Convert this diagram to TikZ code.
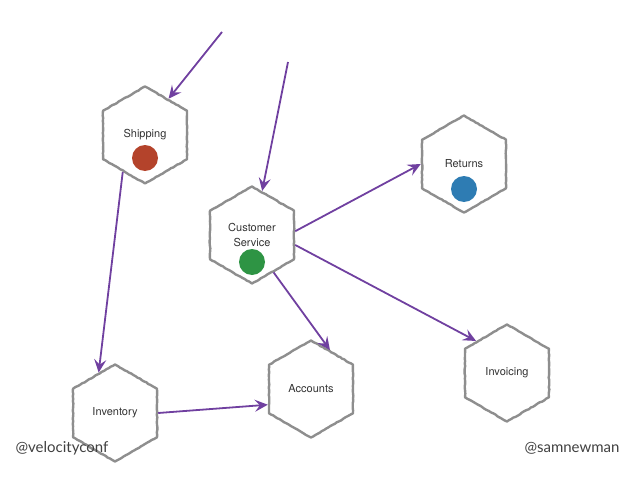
\documentclass[tikz,border=0pt]{standalone}
\usepackage{fontspec}
\setmainfont{TeX Gyre Heros}
\newfontfamily\handlefont{Lato}
\usetikzlibrary{shapes.geometric,arrows.meta,decorations.pathmorphing}
\definecolor{hexgray}{HTML}{8E8E8E}
\definecolor{flowpurple}{HTML}{7040A0}
\definecolor{shipred}{HTML}{B4432B}
\definecolor{csgreen}{HTML}{2E9444}
\definecolor{retblue}{HTML}{2E7CB3}
\tikzset{
    hexnode/.style={regular polygon, regular polygon sides=6, shape border rotate=30,
        minimum size=97pt, inner sep=0pt, draw=hexgray, line width=2.4pt, line join=round,
        decorate, decoration={random steps, segment length=2.5pt, amplitude=0.35pt},
        text=black!80, font=\fontsize{11}{15}\selectfont, align=center},
    flow/.style={draw=flowpurple, line width=1.8pt, -{Stealth[length=13pt,width=12pt,inset=5pt]}},
    dot/.style={circle, fill=#1, minimum size=26pt, inner sep=0pt},
    handle/.style={font=\handlefont\fontsize{15}{18}\selectfont, text=black!75}
}
\begin{document}
\begin{tikzpicture}[x=1pt, y=-1pt]
        \useasboundingbox (0,0) rectangle (638,479);

        \node[hexnode] (ship) at (145,135) {Shipping};
        \node[hexnode] (cs) at (252,235) {Customer\\Service};
        \node[hexnode] (ret) at (464,164) {Returns};
        \node[hexnode] (inv) at (115,413) {Inventory};
        \node[hexnode] (acc) at (311,389) {Accounts};
        \node[hexnode] (invc) at (507,373) {Invoicing};

        \node[dot=shipred] (shipdot) at ([yshift=-23pt]ship.center) {};
        \node[dot=csgreen] (csdot) at ([yshift=-27pt]cs.center) {};
        \node[dot=retblue] (retdot) at ([yshift=-25pt]ret.center) {};

        \coordinate (shipin) at (222,32);
        \coordinate (csin) at (288,62);

        \draw[flow] (shipin) -- (ship.57);
        \draw[flow] (csin) -- (cs.77);
        \draw[flow] (ship.239) -- (inv.112);
        \draw[flow] (cs.5) -- (ret.180);
        \draw[flow] (cs.347) -- (invc.134);
        \draw[flow] (cs.300) -- (acc.64);
        \draw[flow] (inv.0) -- (acc.200);

        \node[handle] (velo) at (62,448) {@velocityconf};
        \node[handle] (sam) at (572,448) {@samnewman};

    \end{tikzpicture}
\end{document}
